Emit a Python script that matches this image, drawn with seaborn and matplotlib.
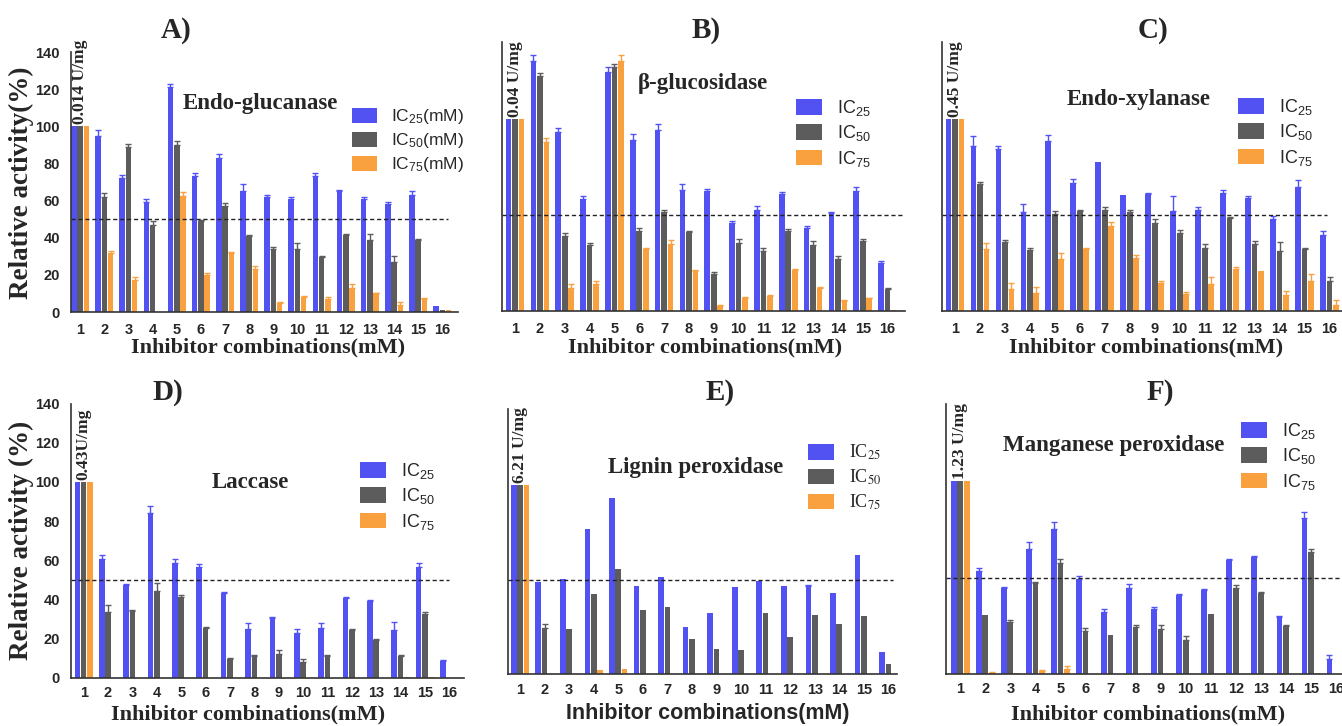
import numpy as np
import pandas as pd
import seaborn as sns
import matplotlib.pyplot as plt
from matplotlib.patches import Patch
from matplotlib.font_manager import FontProperties

sns.set_style('white')
plt.rcParams['font.family'] = ['Liberation Sans', 'DejaVu Sans']
plt.rcParams['mathtext.fontset'] = 'custom'
plt.rcParams['mathtext.rm'] = 'Liberation Sans'
plt.rcParams['mathtext.it'] = 'Liberation Sans:italic'
plt.rcParams['mathtext.bf'] = 'Liberation Sans:bold'

# inhibitor combinations and IC levels
combos = [str(i) for i in range(1, 17)]
levels = ['IC25', 'IC50', 'IC75']

# A) Endo-glucanase
A_ic25 = [100, 95, 72, 59, 121, 73, 83, 65, 62, 61, 73, 65, 61, 58, 63, 3]
A_ic50 = [100, 62, 89, 47, 90, 49, 57, 41, 34, 34, 29.5, 41.5, 39, 27, 39, 1.3]
A_ic75 = [100, 32, 17, 0, 62.5, 20, 32, 23, 5, 8, 7, 13, 10, 4, 7, 1]
A_e25 = [0, 3, 2, 2, 2, 2, 2, 4, 1, 1, 2, 0.5, 1, 1.5, 2, 0]
A_e50 = [0, 2, 1.5, 2, 2, 0.5, 1.5, 0.5, 1, 3, 0.5, 0.5, 3, 3, 0.5, 0]
A_e75 = [0, 1, 2, 0, 2, 1, 0.5, 2, 0.5, 0.5, 1, 2, 0.5, 1.5, 0.5, 0]

# B) beta-glucosidase
B_ic25 = [100, 130, 93, 58, 124, 89, 94, 63, 62.5, 46, 52.5, 61, 43, 51, 62.5, 25]
B_ic50 = [100, 122, 39, 34.5, 127, 41.5, 51.5, 41, 19, 35.5, 31, 41.5, 34.5, 27, 36.5, 11.5]
B_ic75 = [100, 88, 12, 14, 130, 32, 35, 21, 2.5, 7, 8, 21.5, 12, 5, 6.5, 0.5]
B_e25 = [0, 3, 2, 2, 3, 3, 3, 3, 1, 1, 2, 1, 1, 0.5, 2, 1]
B_e50 = [0, 1.5, 1.5, 1, 1.5, 1.5, 1, 0.5, 1.5, 2, 1.5, 1, 2, 1.5, 1, 0.5]
B_e75 = [0, 2, 2, 1.5, 3, 0.5, 2, 0.5, 0.5, 0.5, 0.5, 0.5, 0.5, 0.5, 0.5, 0]

# C) Endo-xylanase
C_ic25 = [100, 86, 84, 51.5, 88.5, 66.5, 77.5, 60.5, 61, 52, 52.5, 61.5, 59, 48, 64.5, 39.5]
C_ic50 = [100, 66, 36, 31.5, 50.5, 52, 52.5, 51.5, 45.5, 40.5, 33, 48.5, 35, 31, 32, 15.5]
C_ic75 = [100, 32, 11.5, 9.5, 27, 32, 44, 27.5, 14.5, 9, 14, 22, 21, 8.5, 15.5, 3]
C_e25 = [0, 5, 2, 4, 3, 2, 0, 0, 0.5, 8, 1.5, 1.5, 1, 1.5, 3.5, 2]
C_e50 = [0, 1, 1, 1.5, 1.5, 0.5, 1.5, 1, 2.5, 1.5, 2, 0.5, 1.5, 5, 1, 2]
C_e75 = [0, 3.5, 3, 3, 3, 0.5, 2.5, 1.5, 1, 1, 3.5, 1, 0, 2, 3.5, 2.5]

# D) Laccase
D_ic25 = [100, 60.5, 47.5, 84, 58.5, 56.5, 43.5, 24.8, 30.5, 22.6, 25.2, 40.5, 39.3, 24.3, 56.5, 8.7]
D_ic50 = [100, 33.5, 34, 44.5, 41.3, 25.5, 9.5, 11.2, 12, 8.2, 11.1, 24.3, 19.2, 11.2, 32.3, 0]
D_ic75 = [100, 0, 0, 0, 0, 0, 0, 0, 0, 0, 0, 0, 0, 0.5, 0.5, 0]
D_e25 = [0, 2, 0.5, 3.5, 2, 1.5, 0.5, 3, 0.5, 2.5, 2.5, 0.5, 0.5, 4, 2, 0.5]
D_e50 = [0, 3.5, 0.5, 4, 1, 0.5, 0.5, 0.5, 2, 1.5, 0.5, 0.5, 0.5, 0.5, 1.5, 0]
D_e75 = [0, 0, 0, 0, 0, 0, 0, 0, 0, 0, 0, 0, 0, 0, 0, 0]

# E) Lignin peroxidase
E_ic25 = [100, 49, 50.3, 76.8, 93, 46.8, 51.6, 25.1, 32.5, 46, 49.3, 46.8, 46.8, 42.8, 63, 11.6]
E_ic50 = [100, 24.6, 24, 42.6, 55.5, 34, 35.6, 18.8, 13.2, 12.8, 32.5, 19.5, 31.3, 26.6, 30.8, 5.4]
E_ic75 = [100, 0, 0, 2.3, 2.6, 0, 0, 0, 0, 0, 0, 0, 0, 0, 0, 0]
E_e25 = [0, 0, 0, 0, 0, 0, 0, 0, 0, 0, 0, 0, 0.5, 0, 0, 0]
E_e50 = [0, 2, 0, 0, 0, 0, 0, 0, 0, 0, 0, 0, 0, 0, 0, 0]
E_e75 = [0, 0, 0, 0, 0, 0, 0, 0, 0, 0, 0, 0, 0, 0, 0, 0]

# F) Manganese peroxidase
F_ic25 = [100, 53.4, 44.4, 64.6, 75, 49.2, 32.3, 44.4, 33.5, 40.8, 43.5, 59.1, 60.8, 29.4, 80.7, 7.6]
F_ic50 = [100, 30.4, 27.1, 47.3, 57.4, 22.4, 20.2, 24.5, 23.2, 17.6, 30.9, 44.4, 41.8, 24.9, 63.4, 0]
F_ic75 = [100, 0.5, 0.3, 1.7, 2.6, 0, 0, 0, 0, 0, 0, 0, 0, 0, 0.5, 0]
F_e25 = [0, 1.5, 0.5, 4, 4, 1.5, 1.5, 2.5, 1.5, 0.5, 0.5, 0.5, 0.5, 0.5, 3.5, 2]
F_e50 = [0, 0, 1, 0.5, 2, 1.5, 0, 1, 2, 2, 0, 1.5, 0.5, 0.5, 1.5, 0]
F_e75 = [0, 0.5, 0, 0.5, 1.5, 0, 0, 0, 0, 0, 0, 0, 0, 0, 0, 0]

enzymes = ['Endo-glucanase', 'β-glucosidase', 'Endo-xylanase',
           'Laccase', 'Lignin peroxidase', 'Manganese peroxidase']
activities = ['0.014 U/mg', '0.04 U/mg', '0.45 U/mg', '0.43U/mg', '6.21 U/mg', '1.23 U/mg']
panel_tags = ['A)', 'B)', 'C)', 'D)', 'E)', 'F)']

colors = ['#5252F2', '#5C5C5C', '#F9A03F']
palette = dict(zip(levels, colors))

W, H = 1342, 726
fig = plt.figure(figsize=(W / 100, H / 100), dpi=100)
serif = 'Liberation Serif'


def ftext(x, y, s, **kw):
    return fig.text(x / W, 1 - y / H, s, **kw)


# layout of each panel in pixels: axes box, xlim, dashed line end, y tick step, etc.
layout = [
    dict(box=(71, 52, 458, 312), xlim=(-0.38, 15.65), dash=15.23, ystep=20, ylab=True, xtick=0,
         tag=(176, 31), name=(183, 103), xl=(268, 347), leg=(352, 107), leg_size=12.5,
         leg_labels=['IC$_{25}$(mM)', 'IC$_{50}$(mM)', 'IC$_{75}$(mM)'], leg_serif=False),
    dict(box=(501.7, 41.7, 905, 311), xlim=(-0.54, 15.7), dash=15.7, ystep=20, ylab=False, xtick=0,
         tag=(706, 31), name=(638, 83), xl=(705, 347), leg=(796, 98), leg_size=13,
         leg_labels=['IC$_{25}$', 'IC$_{50}$', 'IC$_{75}$'], leg_serif=False),
    dict(box=(941.7, 41.7, 1342, 311), xlim=(-0.53, 15.5), dash=14.9, ystep=10, ylab=False, xtick=0,
         tag=(1153, 31), name=(1067, 100), xl=(1146, 347), leg=(1238, 97), leg_size=13,
         leg_labels=['IC$_{25}$', 'IC$_{50}$', 'IC$_{75}$'], leg_serif=False),
    dict(box=(71, 403.5, 464, 677.7), xlim=(-0.52, 15.6), dash=15.0, ystep=20, ylab=True, xtick=4,
         tag=(168, 392), name=(212, 483), xl=(248, 714), leg=(360, 461), leg_size=13,
         leg_labels=['IC$_{25}$', 'IC$_{50}$', 'IC$_{75}$'], leg_serif=False),
    dict(box=(508.3, 409.3, 897, 674.3), xlim=(-0.48, 15.35), dash=15.2, ystep=20, ylab=False, xtick=4,
         tag=(720, 393), name=(608, 467), xl=(708, 714), leg=(808, 443), leg_size=13,
         leg_labels=['IC$_{25}$', 'IC$_{50}$', 'IC$_{75}$'], leg_serif=True),
    dict(box=(945.7, 404, 1342, 674), xlim=(-0.58, 15.24), dash=15.24, ystep=5, ylab=False, xtick=4,
         tag=(1160, 392), name=(1003, 446), xl=(1148, 714), leg=(1241, 421), leg_size=13,
         leg_labels=['IC$_{25}$', 'IC$_{50}$', 'IC$_{75}$'], leg_serif=False),
]

values = [(A_ic25, A_ic50, A_ic75), (B_ic25, B_ic50, B_ic75), (C_ic25, C_ic50, C_ic75),
          (D_ic25, D_ic50, D_ic75), (E_ic25, E_ic50, E_ic75), (F_ic25, F_ic50, F_ic75)]
errors = [(A_e25, A_e50, A_e75), (B_e25, B_e50, B_e75), (C_e25, C_e50, C_e75),
          (D_e25, D_e50, D_e75), (E_e25, E_e50, E_e75), (F_e25, F_e50, F_e75)]

for i, lay in enumerate(layout):
    left, top, right, bottom = lay['box']
    ax = fig.add_axes([left / W, 1 - bottom / H, (right - left) / W, (bottom - top) / H])

    ic25, ic50, ic75 = values[i]
    df = pd.DataFrame({'combo': combos * 3,
                       'level': np.repeat(levels, len(combos)),
                       'value': ic25 + ic50 + ic75})
    sns.barplot(data=df, x='combo', y='value', hue='level', order=combos, hue_order=levels,
                palette=palette, saturation=1, width=0.78, gap=0.12, linewidth=0,
                legend=False, ax=ax)

    # one-sided error bars on top of each bar
    bar_sets = list(ax.containers)[:3]
    for cont, err, col in zip(bar_sets, errors[i], colors):
        xs = np.array([p.get_x() + p.get_width() / 2 for p in cont.patches])
        ys = np.array([p.get_height() for p in cont.patches])
        err = np.array(err)
        m = err > 0
        if m.any():
            ax.errorbar(xs[m], ys[m], yerr=[np.zeros(m.sum()), err[m]], fmt='none',
                        ecolor=col, elinewidth=1, capsize=2, capthick=1)

    ax.plot([lay['xlim'][0], lay['dash']], [50, 50], color='#222222', lw=1, ls=(0, (3, 2)))

    ax.set_xlim(*lay['xlim'])
    ax.set_ylim(0, 140)
    ax.set_yticks(np.arange(0, 141, lay['ystep']))
    ax.set_xlabel('')
    ax.set_ylabel('')
    for s in ['top', 'right']:
        ax.spines[s].set_visible(False)
    for s in ['left', 'bottom']:
        ax.spines[s].set_linewidth(1.2)
        ax.spines[s].set_color('#333333')
    ax.tick_params(axis='y', direction='out', length=5 if lay['ystep'] == 20 else 3.5,
                   width=1, color='#333333', labelleft=lay['ylab'], labelsize=10.5, pad=3)
    ax.tick_params(axis='x', direction='out', length=lay['xtick'], width=1, color='#333333',
                   labelsize=10.5, pad=8 if lay['xtick'] == 0 else 2)
    for t in ax.get_xticklabels() + ax.get_yticklabels():
        t.set_fontweight('bold')

    # enzyme activity of the control, written above bar 1
    ax.text(0, 101, activities[i], rotation=90, ha='center', va='bottom',
            family=serif, fontweight='bold', fontsize=12.5)

    handles = [Patch(facecolor=c, edgecolor='none') for c in colors]
    if lay['leg_serif']:
        prop = FontProperties(family=serif, size=lay['leg_size'], math_fontfamily='stix')
    else:
        prop = FontProperties(family='Liberation Sans', size=lay['leg_size'])
    lx, ly = lay['leg']
    ax.legend(handles, lay['leg_labels'], prop=prop, loc='upper left',
              bbox_to_anchor=(lx / W, 1 - ly / H), bbox_transform=fig.transFigure,
              frameon=False, borderpad=0, borderaxespad=0, handlelength=1.45,
              handleheight=0.95, handletextpad=0.8, labelspacing=0.3)

    ftext(*lay['tag'], panel_tags[i], ha='center', va='center', family=serif,
          fontweight='bold', fontsize=21)
    nx, ny = lay['name']
    ftext(nx, ny, enzymes[i], ha='left', va='center', family=serif,
          fontweight='bold', fontsize=16.5)
    xlx, xly = lay['xl']
    if i == 4:
        ftext(xlx, xly, 'Inhibitor combinations(mM)', ha='center', va='center',
              family='Liberation Sans', fontweight='bold', fontsize=15.5)
    else:
        ftext(xlx, xly, 'Inhibitor combinations(mM)', ha='center', va='center',
              family=serif, fontweight='bold', fontsize=16)

ftext(21, 183, 'Relative activity(%)', rotation=90, ha='center', va='center',
      family=serif, fontweight='bold', fontsize=19.5)
ftext(21, 540, 'Relative activity (%)', rotation=90, ha='center', va='center',
      family=serif, fontweight='bold', fontsize=19.5)

fig.savefig('out.png', dpi=100)
